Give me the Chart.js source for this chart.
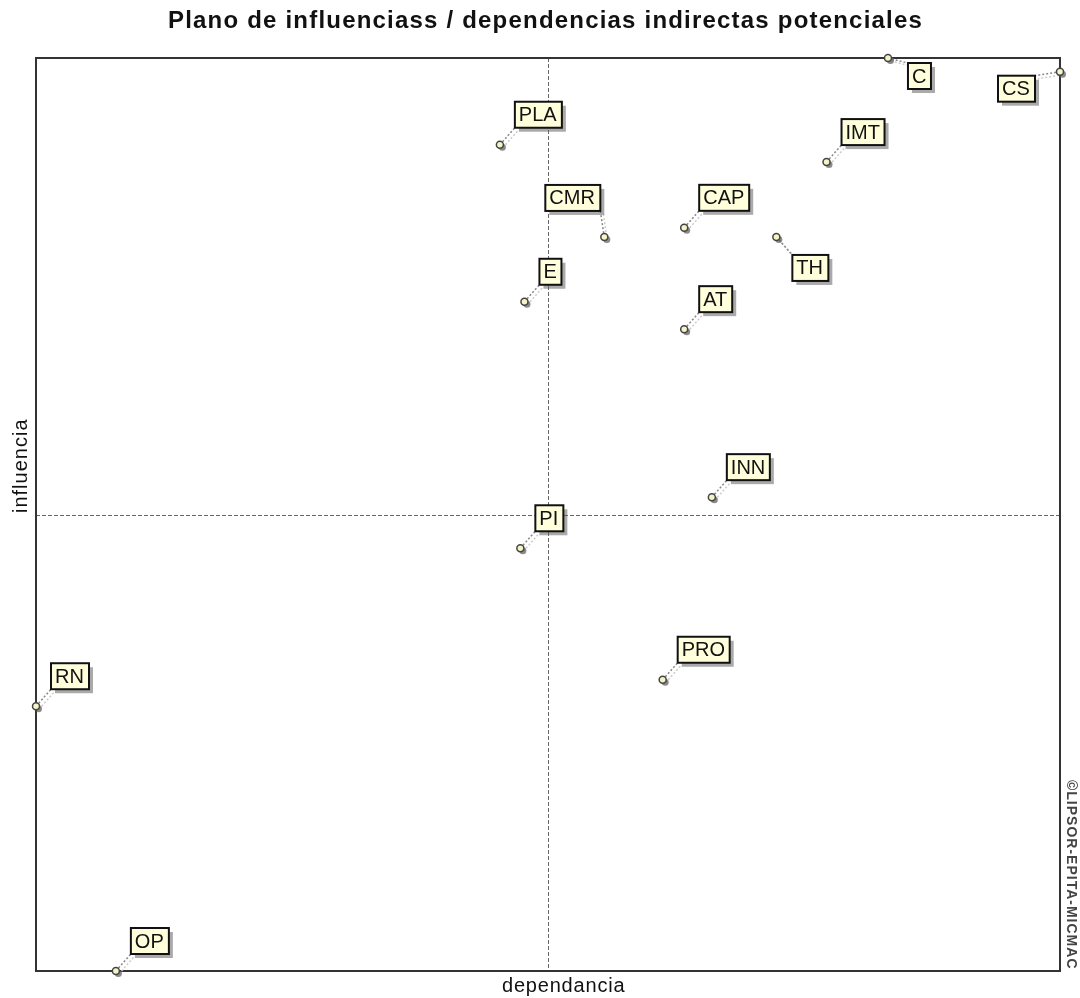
<!DOCTYPE html>
<html>
<head>
<meta charset="utf-8">
<script src="https://cdn.jsdelivr.net/npm/chart.js@4"></script>
<style>
  body { margin: 0; background: #fff; }
  #wrap { width: 1080px; height: 998px; }
</style>
</head>
<body>
<div id="wrap"><canvas id="myChart" width="1080" height="998"></canvas></div>
<script>
// variables MICMAC (dependencia, influencia) en % de la escala
const variables = ['C', 'CS', 'PLA', 'IMT', 'CMR', 'CAP', 'TH', 'E', 'AT', 'INN', 'PI', 'PRO', 'RN', 'OP'];
const dependencia = [83.2, 100, 45.3, 77.2, 55.5, 63.3, 72.3, 47.7, 63.3, 66.0, 47.3, 61.2, 0, 7.8];
const influencia = [100, 98.5, 90.5, 88.6, 80.4, 81.4, 80.4, 73.3, 70.3, 51.9, 46.3, 31.9, 29.0, 0];
const ejeX = 50;
const ejeY = 50;

const FONT = '"Liberation Sans", Arial, sans-serif';

// label box placement: [dx, dy, corner] relative to the point
const placement = {
    C: [20, 5, 'tl'],
    CS: [-25, 4, 'tr'],
    CMR: [-4, -26, 'br'],
    TH: [16, 18, 'tl']
};

const micmacPlugin = {
    id: 'micmac',
    beforeDatasetsDraw(chart) {
        const ctx = chart.ctx;
        const a = chart.chartArea;
        const xs = chart.scales.x, ys = chart.scales.y;
        ctx.save();
        // dashed cross
        ctx.strokeStyle = '#666';
        ctx.lineWidth = 1;
        ctx.setLineDash([4, 2]);
        const cx = Math.round(xs.getPixelForValue(ejeX)) + 0.5;
        const cy = Math.round(ys.getPixelForValue(ejeY)) + 0.5;
        ctx.beginPath();
        ctx.moveTo(cx, a.top); ctx.lineTo(cx, a.bottom);
        ctx.moveTo(a.left, cy); ctx.lineTo(a.right, cy);
        ctx.stroke();
        ctx.setLineDash([]);
        // frame
        ctx.strokeStyle = '#333';
        ctx.lineWidth = 2;
        ctx.strokeRect(a.left, a.top, a.right - a.left, a.bottom - a.top);

        // leader lines and point shadows
        const meta = chart.getDatasetMeta(0);
        ctx.font = '20px ' + FONT;
        meta.data.forEach((pt, i) => {
            const box = boxFor(ctx, variables[i], pt.x, pt.y);
            const lx = box.cornerX, ly = box.cornerY;
            ctx.lineWidth = 1.5;
            ctx.setLineDash([2, 2]);
            ctx.strokeStyle = '#ccc';
            ctx.beginPath();
            ctx.moveTo(pt.x + 3, pt.y + 3); ctx.lineTo(lx + 3, ly + 3);
            ctx.stroke();
            ctx.strokeStyle = '#888';
            ctx.beginPath();
            ctx.moveTo(pt.x, pt.y); ctx.lineTo(lx, ly);
            ctx.stroke();
            ctx.setLineDash([]);
            ctx.fillStyle = 'rgba(90,90,90,0.7)';
            ctx.beginPath();
            ctx.arc(pt.x + 2.5, pt.y + 2.5, 3.5, 0, Math.PI * 2);
            ctx.fill();
        });
        ctx.restore();
    },
    afterDatasetsDraw(chart) {
        const ctx = chart.ctx;
        const meta = chart.getDatasetMeta(0);
        ctx.save();
        ctx.font = '20px ' + FONT;
        meta.data.forEach((pt, i) => {
            const b = boxFor(ctx, variables[i], pt.x, pt.y);
            ctx.fillStyle = 'rgba(100,100,100,0.55)';
            ctx.fillRect(b.x + 4, b.y + 4, b.w, b.h);
            ctx.fillStyle = '#ffffdc';
            ctx.fillRect(b.x, b.y, b.w, b.h);
            ctx.strokeStyle = '#111';
            ctx.lineWidth = 2;
            ctx.strokeRect(b.x, b.y, b.w, b.h);
            ctx.fillStyle = '#111';
            ctx.textAlign = 'left';
            ctx.textBaseline = 'middle';
            ctx.fillText(variables[i], b.x + 4, b.y + b.h / 2 + 1);
        });
        // texts
        ctx.fillStyle = '#111';
        ctx.textBaseline = 'middle';
        ctx.textAlign = 'left';
        ctx.font = 'bold 24px ' + FONT;
        ctx.letterSpacing = '1.2px';
        ctx.fillText('Plano de influenciass / dependencias indirectas potenciales', 168, 21);
        ctx.font = '20px ' + FONT;
        ctx.letterSpacing = '0.8px';
        ctx.fillText('dependancia', 502, 986);
        ctx.save();
        ctx.translate(21, 513);
        ctx.rotate(-Math.PI / 2);
        ctx.letterSpacing = '1px';
        ctx.fillText('influencia', 0, 0);
        ctx.restore();
        ctx.save();
        ctx.translate(1071, 780);
        ctx.rotate(Math.PI / 2);
        ctx.font = 'bold 14px ' + FONT;
        ctx.letterSpacing = '1px';
        ctx.fillStyle = '#444';
        ctx.fillText('©LIPSOR-EPITA-MICMAC', 0, 0);
        ctx.restore();
        ctx.restore();
    }
};

function boxFor(ctx, name, px, py) {
    const w = Math.round(ctx.measureText(name).width) + 9;
    const h = 26;
    const p = placement[name] || [15, -17, 'bl'];
    const cx = px + p[0], cy = py + p[1];
    let x, y;
    if (p[2] === 'bl') { x = cx; y = cy - h; }
    else if (p[2] === 'tl') { x = cx; y = cy; }
    else if (p[2] === 'tr') { x = cx - w; y = cy; }
    else { x = cx - w; y = cy - h; }
    return { x: x, y: y, w: w, h: h, cornerX: cx, cornerY: cy };
}

const points = variables.map((v, i) => ({ x: dependencia[i], y: influencia[i] }));

new Chart(document.getElementById('myChart').getContext('2d'), {
    type: 'scatter',
    data: {
        datasets: [{
            label: 'variables',
            data: points,
            pointRadius: 3.5,
            pointBackgroundColor: '#f4f4c8',
            pointBorderColor: '#444',
            pointBorderWidth: 1.5,
            clip: false
        }]
    },
    options: {
        responsive: false,
        animation: false,
        layout: { padding: { left: 36, right: 20, top: 58, bottom: 27 } },
        plugins: { legend: { display: false }, tooltip: { enabled: false } },
        scales: {
            x: { display: false, min: 0, max: 100 },
            y: { display: false, min: 0, max: 100 }
        }
    },
    plugins: [micmacPlugin]
});
</script>
</body>
</html>
